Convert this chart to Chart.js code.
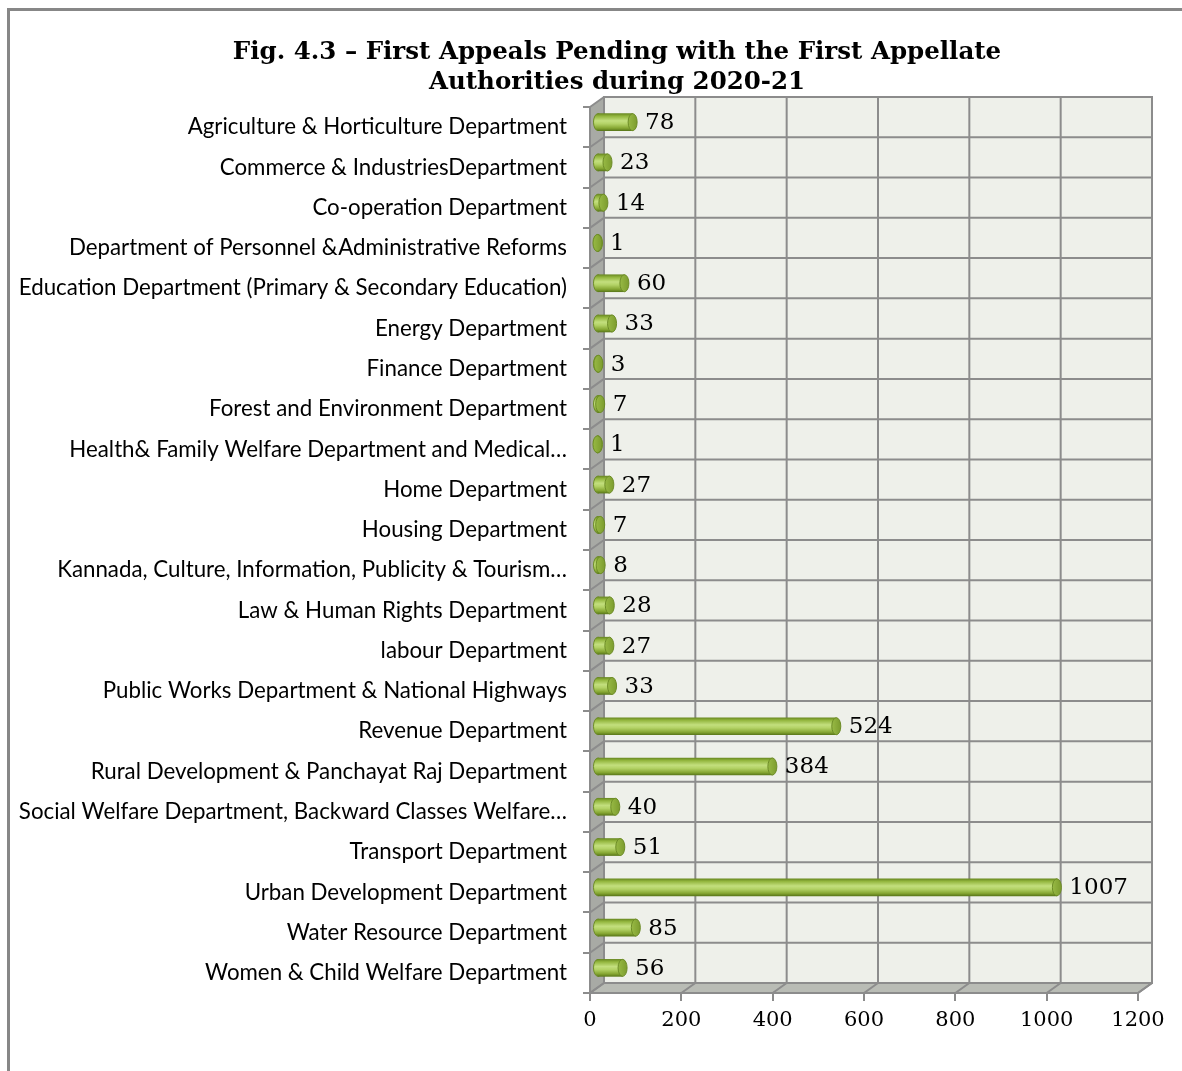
<!DOCTYPE html>
<html>
<head>
<meta charset="utf-8">
<script src="https://cdn.jsdelivr.net/npm/chart.js@4.4.1/dist/chart.umd.min.js"></script>
<style>
  html, body { margin:0; padding:0; background:#fff; overflow:hidden; width:1182px; height:1071px; }
  #frame { position:absolute; left:7px; top:8px; width:1400px; height:1300px; border:3px solid #878787; box-sizing:border-box; }
  #wrap { position:absolute; left:10px; top:11px; width:1214px; height:1060px; }
</style>
</head>
<body>
<div id="frame"></div>
<div id="wrap"><canvas id="c" width="1214" height="1060"></canvas></div>
<script>
const categories = [
  "Agriculture & Horticulture Department",
  "Commerce & IndustriesDepartment",
  "Co-operation Department",
  "Department of Personnel &Administrative Reforms",
  "Education Department (Primary & Secondary Education)",
  "Energy Department",
  "Finance Department",
  "Forest and Environment Department",
  "Health& Family Welfare Department and Medical…",
  "Home Department",
  "Housing Department",
  "Kannada, Culture, Information, Publicity & Tourism…",
  "Law & Human Rights Department",
  "labour Department",
  "Public Works Department & National Highways",
  "Revenue Department",
  "Rural Development & Panchayat Raj Department",
  "Social Welfare Department, Backward Classes Welfare…",
  "Transport Department",
  "Urban Development Department",
  "Water Resource Department",
  "Women & Child Welfare Department"
];
const pendingAppeals = [78, 23, 14, 1, 60, 33, 3, 7, 1, 27, 7, 8, 28, 27, 33, 524, 384, 40, 51, 1007, 85, 56];
const valueTicks = [0, 200, 400, 600, 800, 1000, 1200];
const titleLines = ["Fig. 4.3 – First Appeals Pending with the First Appellate", "Authorities during 2020-21"];

const DX = 14, DY = -10;      // 3D depth offset of back wall
const BX = 7, BY = -5;        // bar offset (mid depth)
const BAR_H = 17, CAP_RX = 4.5;
const GRID = '#8c8c8c';
const RIGHT_PAD = 86;

function barGradient(ctx, yc) {
  const g = ctx.createLinearGradient(0, yc - BAR_H/2, 0, yc + BAR_H/2);
  g.addColorStop(0, '#6a8a22');
  g.addColorStop(0.15, '#93b63e');
  g.addColorStop(0.42, '#c3df7e');
  g.addColorStop(0.6, '#b3d266');
  g.addColorStop(0.85, '#86a733');
  g.addColorStop(1, '#5c7a1b');
  return g;
}

// centre the title over the whole figure frame (not just the padded box)
const titleCentre = {
  id: 'titleCentre',
  afterLayout(chart) {
    if (chart.titleBlock) { chart.titleBlock.left = RIGHT_PAD; chart.titleBlock.right = chart.width - RIGHT_PAD; }
  }
};

const walls3d = {
  id: 'walls3d',
  beforeDraw(chart) {
    const {ctx, chartArea: a, scales} = chart;
    const xs = scales.x, ys = scales.y;
    ctx.save();
    ctx.fillStyle = '#eef0ea';
    ctx.fillRect(a.left + DX, a.top + DY, a.right - a.left, a.bottom - a.top);
    ctx.fillStyle = '#a8aaa5';
    ctx.beginPath();
    ctx.moveTo(a.left, a.top); ctx.lineTo(a.left + DX, a.top + DY);
    ctx.lineTo(a.left + DX, a.bottom + DY); ctx.lineTo(a.left, a.bottom); ctx.closePath();
    ctx.fill();
    ctx.fillStyle = '#b9bcb5';
    ctx.beginPath();
    ctx.moveTo(a.left, a.bottom); ctx.lineTo(a.left + DX, a.bottom + DY);
    ctx.lineTo(a.right + DX, a.bottom + DY); ctx.lineTo(a.right, a.bottom); ctx.closePath();
    ctx.fill();

    ctx.strokeStyle = GRID; ctx.lineWidth = 2;
    valueTicks.forEach(v => {
      const x = xs.getPixelForValue(v);
      ctx.beginPath();
      ctx.moveTo(x + DX, a.top + DY); ctx.lineTo(x + DX, a.bottom + DY);
      ctx.moveTo(x, a.bottom); ctx.lineTo(x + DX, a.bottom + DY);
      ctx.stroke();
    });
    for (let i = 0; i <= categories.length; i++) {
      const y = ys.getPixelForValue(i - 0.5);
      ctx.beginPath();
      ctx.moveTo(a.left + DX, y + DY); ctx.lineTo(a.right + DX, y + DY);
      ctx.moveTo(a.left, y); ctx.lineTo(a.left + DX, y + DY);
      ctx.stroke();
    }
    ctx.beginPath();
    ctx.rect(a.left + DX, a.top + DY, a.right - a.left, a.bottom - a.top);
    ctx.moveTo(a.right, a.bottom); ctx.lineTo(a.right + DX, a.bottom + DY);
    ctx.stroke();
    ctx.restore();
  },
  beforeDatasetsDraw(chart) {
    const ctx = chart.ctx;
    ctx.save();
    ctx.translate(BX, BY);
    const meta = chart.getDatasetMeta(0);
    meta.data.forEach(el => {
      ctx.beginPath();
      ctx.ellipse(el.base, el.y, CAP_RX, BAR_H/2, 0, 0, Math.PI*2);
      ctx.fillStyle = barGradient(ctx, el.y);
      ctx.fill();
      ctx.strokeStyle = '#6d8c27'; ctx.lineWidth = 1; ctx.stroke();
    });
  },
  afterDatasetsDraw(chart) {
    const ctx = chart.ctx;
    const meta = chart.getDatasetMeta(0);
    meta.data.forEach((el, i) => {
      ctx.beginPath();
      ctx.ellipse(el.x, el.y, CAP_RX, BAR_H/2, 0, 0, Math.PI*2);
      const g = ctx.createLinearGradient(el.x - CAP_RX, 0, el.x + CAP_RX, 0);
      g.addColorStop(0, '#98ba45'); g.addColorStop(1, '#7c9c2e');
      ctx.fillStyle = g;
      ctx.fill();
      ctx.strokeStyle = '#6d8c27'; ctx.lineWidth = 1; ctx.stroke();
      ctx.fillStyle = '#000';
      ctx.font = '23px "DejaVu Serif"';
      ctx.textAlign = 'left'; ctx.textBaseline = 'middle';
      ctx.fillText(String(pendingAppeals[i]), el.x + CAP_RX + 8, el.y + 1);
    });
    ctx.restore();
  }
};

new Chart(document.getElementById('c'), {
  type: 'bar',
  data: {
    labels: categories,
    datasets: [{
      data: pendingAppeals,
      barThickness: BAR_H,
      backgroundColor: (c) => {
        const ys = c.chart.scales && c.chart.scales.y;
        const y = ys ? ys.getPixelForValue(c.dataIndex) : NaN;
        if (!isFinite(y)) return '#a8c95a';
        return barGradient(c.chart.ctx, y);
      },
      borderWidth: 0,
      clip: false
    }]
  },
  options: {
    indexAxis: 'y',
    responsive: false,
    animation: false,
    layout: { padding: { left: 0, right: RIGHT_PAD, top: 0, bottom: 30 } },
    plugins: {
      legend: { display: false },
      tooltip: { enabled: false },
      title: {
        display: true,
        text: titleLines,
        color: '#000',
        font: { family: '"DejaVu Serif"', size: 24.5, weight: 'bold', lineHeight: 30/24.5 },
        padding: { top: 27, bottom: 9 }
      }
    },
    scales: {
      x: {
        min: 0, max: 1200,
        afterBuildTicks: (s) => { s.ticks = valueTicks.map(v => ({ value: v })); },
        afterFit: (s) => { s.height = 48; },
        grid: { drawOnChartArea: false, drawTicks: true, tickLength: 8, color: GRID, lineWidth: 2 },
        border: { display: true, color: GRID, width: 2 },
        ticks: { color: '#000', padding: 7, font: { family: '"DejaVu Serif"', size: 21 }, maxRotation: 0,
                 callback: (v) => String(v) }
      },
      y: {
        afterFit: (s) => { s.width = 580; },
        grid: { offset: true, drawOnChartArea: false, drawTicks: true, tickLength: 7, color: GRID, lineWidth: 2 },
        border: { display: true, color: GRID, width: 2 },
        ticks: { color: '#000', padding: 16, autoSkip: false, font: { family: 'Lato', size: 22.3 } }
      }
    }
  },
  plugins: [titleCentre, walls3d]
});
</script>
</body>
</html>
